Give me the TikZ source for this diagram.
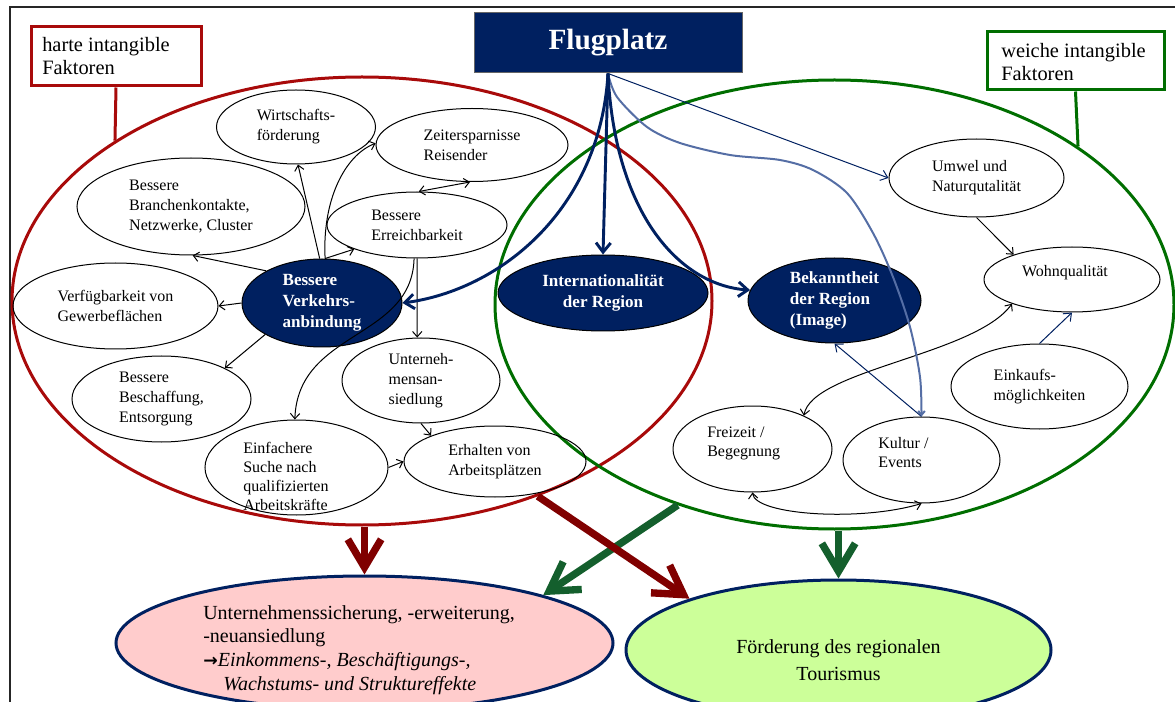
\documentclass[tikz,border=0pt]{standalone}
\usepackage{fontspec}
\setmainfont{Liberation Serif}
\newfontfamily\arrowfont{DejaVu Sans}
\usetikzlibrary{shapes.geometric,arrows.meta}
\definecolor{navy}{RGB}{0,32,96}
\definecolor{hred}{RGB}{168,10,10}
\definecolor{wgreen}{RGB}{0,110,0}
\definecolor{maroonc}{RGB}{128,0,0}
\definecolor{dgreen}{RGB}{20,95,45}
\definecolor{pinkfill}{RGB}{255,204,204}
\definecolor{limefill}{RGB}{204,255,153}
\definecolor{wigc}{RGB}{85,110,165}
\tikzset{
 sz/.style 2 args={minimum width=#1*0.75pt, minimum height=#2*0.75pt},
 el/.style={ellipse, draw=black, line width=0.75pt, align=left, font=\fontsize{12}{15}\selectfont},
 eltxt/.style={anchor=north west, align=left, font=\fontsize{12}{14.3}\selectfont},
 dk/.style={ellipse, draw=black, line width=0.75pt, fill=navy, text=white, align=left, font=\bfseries\fontsize{12.8}{15.6}\selectfont},
 bigel/.style={ellipse, line width=2.25pt},
 lab/.style={rectangle, draw, line width=2.25pt, fill=white},
 labtxt/.style={anchor=north west, align=left, font=\fontsize{15.3}{16.8}\selectfont},
 arr/.style={line width=0.75pt, -{Straight Barb[length=4pt,width=7pt]}},
 darr/.style={line width=0.75pt, {Straight Barb[length=4pt,width=7pt]}-{Straight Barb[length=4pt,width=7pt]}},
 narr/.style={navy, line width=0.75pt, -{Straight Barb[length=5pt,width=8pt]}},
 bluearr/.style={navy, line width=2.2pt, -{Straight Barb[length=7pt,width=11pt]}},
 wigline/.style={wigc, line width=1.5pt, -{Straight Barb[length=3pt,width=5pt]}},
 fatarr/.style={line width=5.5pt, -{Straight Barb[length=21pt,width=25pt]}}
}
\begin{document}
\begin{tikzpicture}[x=0.75pt,y=-0.75pt, every node/.style={inner sep=0pt}]
\useasboundingbox (0,0) rectangle (1175,702);
% frame
\draw[line width=2pt, black!85] (10,702) -- (10,7) -- (1175,7);

% big ellipses
\node[bigel, draw=hred, sz={700}{448}] (redE) at (362,301) {};
\node[bigel, draw=wgreen, sz={679}{449}] (grnE) at (834.5,304.5) {};

% label boxes
\node[lab, draw=hred, sz={170}{59}] (harte) at (116,56.5) {};
\node[labtxt] (hartet) at (42,37.5) {harte intangible\\Faktoren};
\draw[hred, line width=2.25pt] (harte.south) -- (redE.147);
\node[lab, draw=wgreen, sz={177}{58}] (weiche) at (1075.5,61) {};
\node[labtxt] (weichet) at (1001,43.5) {weiche intangible\\Faktoren};
\draw[wgreen, line width=2.25pt] (weiche.south) -- (grnE.33);

% Flugplatz
\node[rectangle, fill=navy, draw=black!60, line width=0.75pt, sz={268}{60}, text=white, font=\bfseries\fontsize{22}{26}\selectfont] (flug) at (608,43) {Flugplatz};

% left nodes
\node[el, sz={159}{74}] (wf) at (296,127) {Wirtschafts-\\förderung};
\node[el, sz={192}{73}] (zs) at (472,145) {Zeitersparnisse\\Reisender};
\node[el, sz={228}{97}] (bk) at (191,206.5) {Bessere\\Branchenkontakte,\\Netzwerke, Cluster};
\node[el, sz={180}{66}] (er) at (417,225) {Bessere\\Erreichbarkeit};
\node[dk, sz={160}{88}] (vk) at (322,303) {Bessere\\Verkehrs-\\anbindung};
\node[el, sz={205}{86}] (vf) at (115.5,306) {Verfügbarkeit von\\Gewerbeflächen};
\node[el, sz={179}{86}] (bs) at (161.5,399) {Bessere\\Beschaffung,\\Entsorgung};
\node[el, sz={183}{95}] (ei) at (296.5,467.5) {};
\node[eltxt] (eit) at (243,442) {Einfachere\\Suche nach\\qualifizierten\\Arbeitskräfte};
\node[el, sz={158}{85}] (ua) at (421,380.5) {Unterneh-\\mensan-\\siedlung};
\node[el, sz={182}{71}] (ea) at (495,461.5) {Erhalten von\\Arbeitsplätzen};

% middle dark nodes
\node[dk, align=center, sz={210}{76}] (intl) at (603,293) {Internationalität\\der Region};
\node[dk, sz={173}{85}] (bek) at (834.5,300.5) {Bekanntheit\\der Region\\(Image)};

% right nodes
\node[el, sz={175}{78}] (um) at (976.5,178) {Umwel und\\Naturqutalität};
\node[el, sz={176}{65}] (wo) at (1072,279.5) {};
\node[font=\fontsize{12}{15}\selectfont, anchor=base] (wot) at (1065,277) {Wohnqualität};
\node[el, sz={177}{85}] (ek) at (1039.5,386.5) {Einkaufs-\\möglichkeiten};
\node[el, sz={159}{86}] (fz) at (752.5,449) {};
\node[eltxt] (fzt) at (707,427) {Freizeit /\\Begegnung};
\node[el, sz={157}{86}] (ku) at (921.5,460) {};
\node[eltxt] (kut) at (878,437) {Kultur /\\Events};

% bottom ellipses
\node[ellipse, draw=navy, line width=2.25pt, fill=pinkfill, sz={497}{134}] (pink) at (364.5,643) {};
\node[anchor=north west, align=left, font=\fontsize{15}{17.8}\selectfont] (pinkt) at (203,605) {Unternehmenssicherung, -erweiterung,\\-neuansiedlung\\{\arrowfont\bfseries\fontsize{13}{15}\selectfont →}\textit{Einkommens-, Beschäftigungs-,}\\\hspace*{15pt}\textit{Wachstums- und Struktureffekte}};
\node[ellipse, draw=navy, line width=2.25pt, fill=limefill, sz={425}{140}] (grn) at (838.5,650) {};
\node[align=center, font=\fontsize{15}{20.5}\selectfont] (grnt) at (838.5,660) {Förderung des regionalen\\Tourismus};

% left connectors
\draw[arr] (vk.93) -- (wf.273);
\draw[arr] (vk.86) .. controls (322,200) and (345,155) .. (zs.179);
\draw[arr] (vk.86) -- (er.201);
\draw[darr] (er.87) -- (zs.267);
\draw[arr] (vk.150) -- (bk.272);
\draw[arr] (vk.west) -- (vf.east);
\draw[arr] (vk.209) -- (bs.26);
\draw[arr] (er.south) -- (ua.95);
\draw[arr] (er.265) .. controls (412,340) and (298,330) .. (ei.92);
\draw[arr] (ua.south) -- (ea.158);
\draw[arr] (ei.east) -- (ea.west);

% right connectors
\draw[arr] (um.south) -- (wo.157);
\draw[narr] (ek.north) -- (wo.south);
\draw[darr] (fz.33) .. controls (812,370) and (975,355) .. (wo.202);
\draw[darr] (fz.south) .. controls (755,515) and (860,522) .. (ku.south);
\draw[narr] (ku.north) -- (bek.south);

% from Flugplatz
\draw[narr] (flug.south) -- (um.west);
\draw[wigline] plot[smooth, tension=0.5] coordinates {(flug.south) (617,97) (647,127) (680,143) (730,155) (780,160) (813,170) (847,193) (873,233) (893,277) (910,327) (920,377) (ku.north)};
\draw[bluearr] (flug.south) -- (intl.north);
\draw[bluearr] (flug.south) .. controls (600,210) and (500,290) .. (vk.east);
\draw[bluearr] (flug.south) .. controls (615,215) and (680,285) .. (bek.173);

% big arrows
\draw[fatarr, maroonc] (redE.south -| pink.north) -- (pink.north);
\draw[fatarr, dgreen] (grnE.south -| grn.north) -- (grn.north);
\draw[fatarr, dgreen] (grnE.232) -- (pink.15);
\draw[fatarr, maroonc] (redE.312) -- (grn.161);
\end{tikzpicture}
\end{document}
